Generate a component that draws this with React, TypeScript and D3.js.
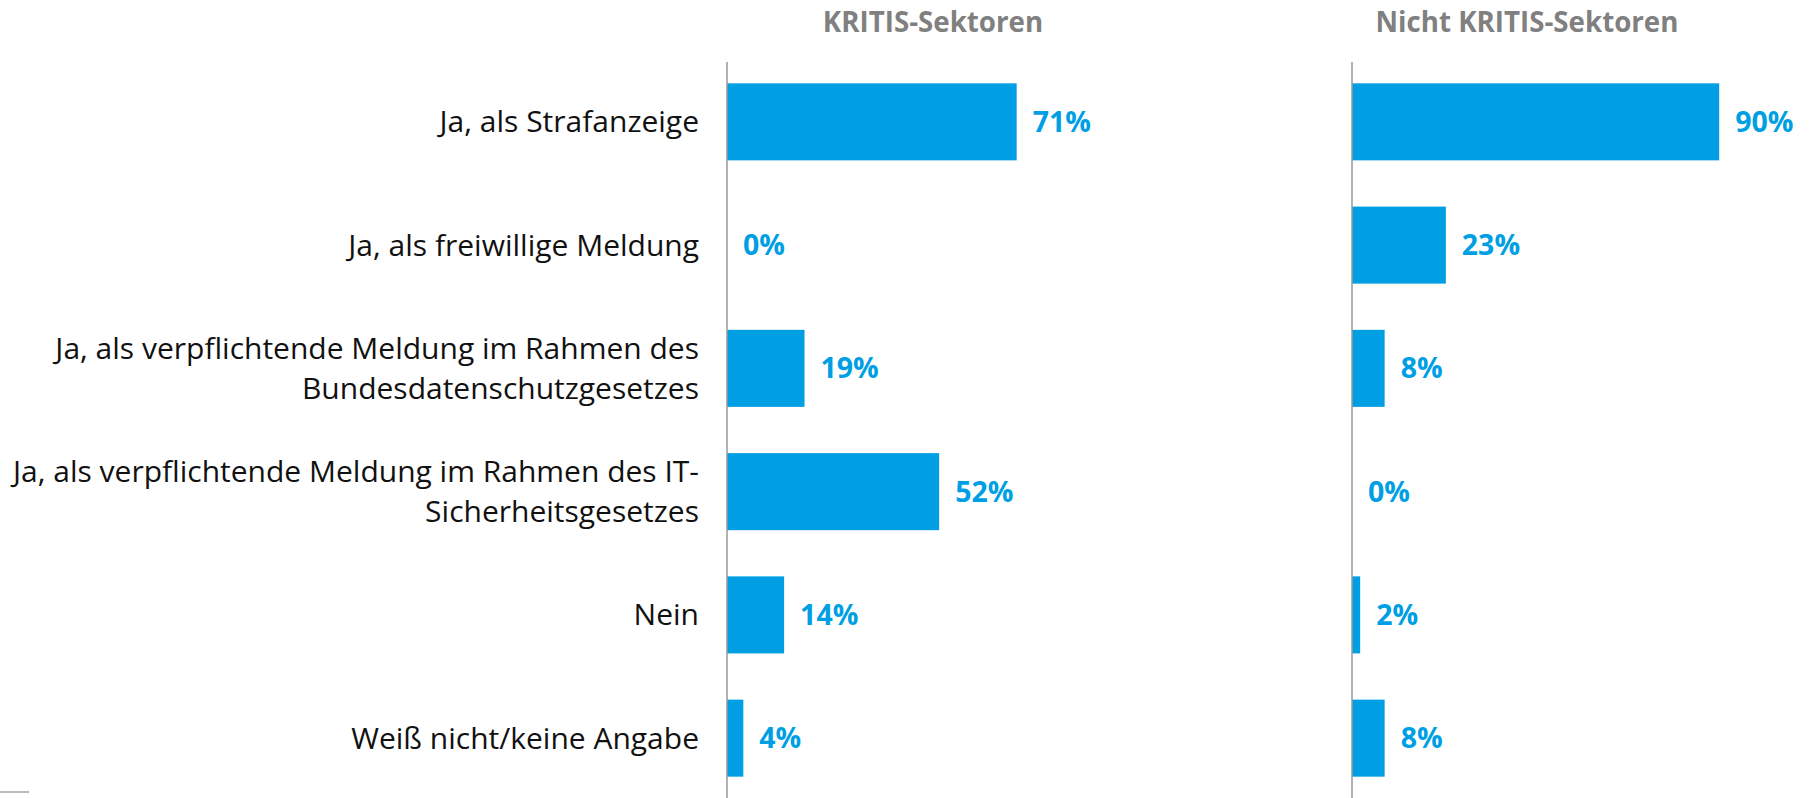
import { useMemo } from 'react';
import * as d3 from 'd3';

// Kategorien (Zeilenumbrüche wie im Original)
const categories: string[][] = [
  ['Ja, als Strafanzeige'],
  ['Ja, als freiwillige Meldung'],
  ['Ja, als verpflichtende Meldung im Rahmen des', 'Bundesdatenschutzgesetzes'],
  ['Ja, als verpflichtende Meldung im Rahmen des IT-', 'Sicherheitsgesetzes'],
  ['Nein'],
  ['Weiß nicht/keine Angabe'],
];

const panelTitles = ['KRITIS-Sektoren', 'Nicht KRITIS-Sektoren'];
const kritisValues = [71, 0, 19, 52, 14, 4];
const nichtKritisValues = [90, 23, 8, 0, 2, 8];

const WIDTH = 1817;
const HEIGHT = 798;
const BLUE = '#009fe3';
const FONT = '"Open Sans", "Noto Sans", sans-serif';

export default function App() {
  const y = useMemo(
    () =>
      d3
        .scaleBand<number>()
        .domain(d3.range(categories.length))
        .range([62, 798])
        .paddingInner(0.375)
        .paddingOuter(0.173),
    []
  );

  const panels = useMemo(
    () => [
      { title: panelTitles[0], values: kritisValues, x: d3.scaleLinear().domain([0, 100]).range([727, 1135]), titleX: 933 },
      { title: panelTitles[1], values: nichtKritisValues, x: d3.scaleLinear().domain([0, 100]).range([1352, 1760]), titleX: 1527 },
    ],
    []
  );

  const bw = y.bandwidth();

  return (
    <svg
      width={WIDTH}
      height={HEIGHT}
      style={{ position: 'absolute', left: 0, top: 0, background: '#fff' }}
      fontFamily={FONT}
    >
      {/* Kategorien */}
      {categories.map((lines, i) => {
        const cy = (y(i) ?? 0) + bw / 2;
        const lh = 39.5;
        const start = cy - ((lines.length - 1) * lh) / 2;
        return (
          <text key={i} textAnchor="end" fontSize={30} fill="#111">
            {lines.map((l, j) => (
              <tspan key={j} x={699} y={start + j * lh} dy="0.35em">
                {l}
              </tspan>
            ))}
          </text>
        );
      })}

      {panels.map((p, pi) => (
        <g key={pi}>
          <text x={p.titleX} y={32} textAnchor="middle" fontSize={27.7} fontWeight={700} fill="#808080">
            {p.title}
          </text>
          {p.values.map((v, i) => {
            const top = y(i) ?? 0;
            return (
              <g key={i}>
                {v > 0 && (
                  <rect x={p.x(0)} y={top} width={p.x(v) - p.x(0)} height={bw} fill={BLUE} />
                )}
                <text
                  x={p.x(v) + 16}
                  y={top + bw / 2}
                  dy="0.35em"
                  fontSize={28.5}
                  fontWeight={700}
                  fill={BLUE}
                >
                  {v}%
                </text>
              </g>
            );
          })}
          <line x1={p.x(0)} x2={p.x(0)} y1={62} y2={HEIGHT} stroke="#999" strokeWidth={1.5} />
        </g>
      ))}

      {/* kleiner Strich unten links */}
      <line x1={0} x2={29} y1={792} y2={792} stroke="#bbb" strokeWidth={2} />
    </svg>
  );
}
